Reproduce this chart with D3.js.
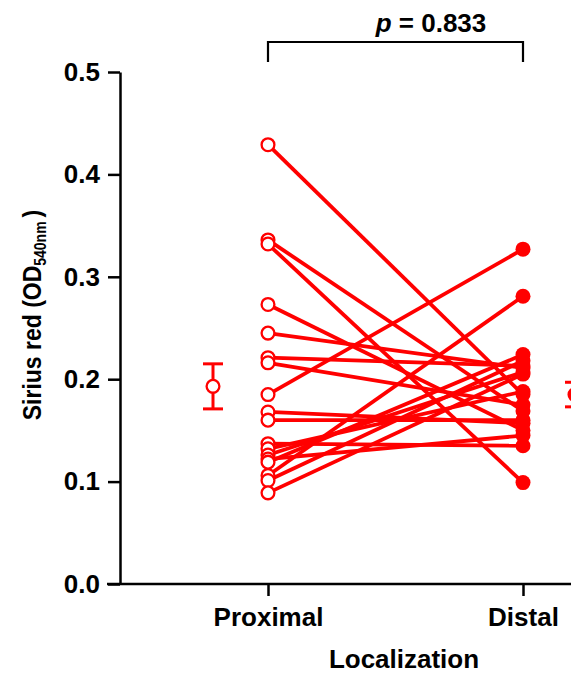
<!DOCTYPE html>
<html>
<head>
<meta charset="utf-8">
<script src="https://cdn.jsdelivr.net/npm/d3@7"></script>
<style>
  body { margin: 0; background: #fff; }
  svg { display: block; font-family: "Liberation Sans", Arial, sans-serif; font-weight: bold; }
</style>
</head>
<body>
<script>
// paired samples, proximal -> distal
const groups = ["Proximal", "Distal"];
const proximal = [0.429, 0.336, 0.332, 0.273, 0.245, 0.221, 0.216, 0.185, 0.168, 0.160, 0.137, 0.132, 0.126, 0.122, 0.119, 0.106, 0.101, 0.089];
const distal   = [0.185, 0.169, 0.099, 0.150, 0.211, 0.213, 0.175, 0.327, 0.157, 0.160, 0.135, 0.188, 0.207, 0.145, 0.224, 0.281, 0.218, 0.205];
// mean +/- SEM
const means = [0.193, 0.185];
const sems = [0.022, 0.012];
const yTicks = [0.0, 0.1, 0.2, 0.3, 0.4, 0.5];
const pLabel = "0.833";

const W = 571, H = 675;
const red = "#ff0000";
const fontFam = "Liberation Sans, Arial, sans-serif";

const svg = d3.select("body").append("svg").attr("width", W).attr("height", H);

const x = d3.scalePoint().domain(groups).range([268, 523]);
const y = d3.scaleLinear().domain([0, 0.5]).range([584, 72]);
const summaryOffset = [-55, 52];

// y axis
const yAxis = svg.append("g")
    .attr("transform", "translate(120,0)")
    .call(d3.axisLeft(y).tickValues(yTicks).tickFormat(d3.format(".1f")).tickSize(12).tickSizeOuter(0).tickPadding(8));
yAxis.select(".domain").attr("stroke-width", 2.5);
yAxis.selectAll(".tick line").attr("stroke-width", 2.5);
yAxis.selectAll("text").attr("font-size", 26).attr("fill", "#000").attr("font-family", fontFam).attr("font-weight", "bold");

// x axis
const xAxis = svg.append("g")
    .attr("transform", "translate(0," + y(0) + ")")
    .call(d3.axisBottom(x).tickSize(12).tickSizeOuter(0).tickPadding(12));
xAxis.select(".domain").remove();
xAxis.append("line").attr("x1", 107).attr("x2", W + 10).attr("stroke", "#000").attr("stroke-width", 2.5);
xAxis.selectAll(".tick line").attr("stroke-width", 2.5);
xAxis.selectAll("text").attr("font-size", 26).attr("fill", "#000").attr("font-family", fontFam).attr("font-weight", "bold");

// titles
svg.append("text")
    .attr("x", 404).attr("y", 668)
    .attr("text-anchor", "middle").attr("font-size", 26)
    .text("Localization");

const yTitle = svg.append("text")
    .attr("transform", "translate(41,315) rotate(-90) scale(1,1.15)")
    .attr("text-anchor", "middle").attr("font-size", 23);
yTitle.append("tspan").text("Sirius red (OD");
yTitle.append("tspan").attr("font-size", 14).attr("dy", 4).text("540nm");
yTitle.append("tspan").attr("dy", -4).attr("dx", 4).text(")");

// paired lines
const pairs = proximal.map((p, i) => [p, distal[i]]);
svg.append("g").selectAll("line")
    .data(pairs)
    .enter()
    .append("line")
    .attr("x1", x("Proximal")).attr("x2", x("Distal"))
    .attr("y1", d => y(d[0])).attr("y2", d => y(d[1]))
    .attr("stroke", red).attr("stroke-width", 3.8);

svg.append("g").selectAll("circle")
    .data(proximal)
    .enter()
    .append("circle")
    .attr("cx", x("Proximal")).attr("cy", d => y(d))
    .attr("r", 6.4)
    .attr("fill", "#fff").attr("stroke", red).attr("stroke-width", 2.3);

svg.append("g").selectAll("circle")
    .data(distal)
    .enter()
    .append("circle")
    .attr("cx", x("Distal")).attr("cy", d => y(d))
    .attr("r", 7.5)
    .attr("fill", red);

// mean +/- SEM beside each group
const summary = svg.append("g").selectAll("g")
    .data(groups)
    .enter()
    .append("g")
    .attr("transform", (g, i) => "translate(" + (x(g) + summaryOffset[i]) + ",0)");
summary.append("line")
    .attr("y1", (g, i) => y(means[i] + sems[i])).attr("y2", (g, i) => y(means[i] - sems[i]))
    .attr("stroke", red).attr("stroke-width", 3);
summary.selectAll(".cap")
    .data((g, i) => [means[i] + sems[i], means[i] - sems[i]])
    .enter()
    .append("line")
    .attr("x1", -10).attr("x2", 10)
    .attr("y1", d => y(d)).attr("y2", d => y(d))
    .attr("stroke", red).attr("stroke-width", 3);
summary.append("circle")
    .attr("cy", (g, i) => y(means[i]))
    .attr("r", 6.4)
    .attr("fill", (g, i) => i === 0 ? "#fff" : red)
    .attr("stroke", red).attr("stroke-width", 2.3);

// significance bracket
const bracketY = 42;
svg.append("path")
    .attr("d", "M" + x("Proximal") + "," + (bracketY + 20) + "V" + bracketY + "H" + x("Distal") + "V" + (bracketY + 20))
    .attr("fill", "none").attr("stroke", "#000").attr("stroke-width", 2.2);
const pText = svg.append("text")
    .attr("x", 431).attr("y", 32)
    .attr("text-anchor", "middle").attr("font-size", 26);
pText.append("tspan").attr("font-style", "italic").text("p");
pText.append("tspan").text(" = " + pLabel);
</script>
</body>
</html>
